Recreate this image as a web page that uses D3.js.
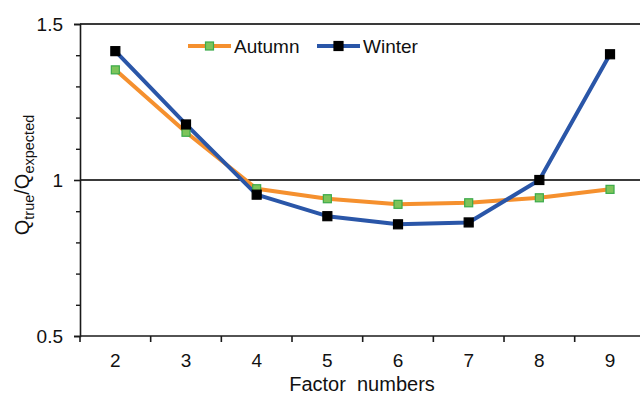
<!DOCTYPE html>
<html>
<head>
<meta charset="utf-8">
<script src="https://cdn.jsdelivr.net/npm/d3@7"></script>
<style>
  html, body { margin: 0; padding: 0; background: #fff; }
  svg { display: block; font-family: Arial, "Liberation Sans", sans-serif; }
</style>
</head>
<body>
<svg id="chart" width="640" height="401"></svg>
<script>
// Ratio of true to expected Q for each number of factors
const factors = ["2", "3", "4", "5", "6", "7", "8", "9"];
const autumn = [1.353, 1.153, 0.972, 0.940, 0.922, 0.927, 0.943, 0.970];
const winter = [1.413, 1.178, 0.953, 0.884, 0.858, 0.864, 1.000, 1.403];
const majorTicks = [0.5, 1, 1.5];
const minorTicks = [0.6, 0.7, 0.8, 0.9, 1.1, 1.2, 1.3, 1.4];

const FONT = "Arial, 'Liberation Sans', sans-serif";
const svg = d3.select("#chart");
const W = 640, plotLeft = 80, plotTop = 24, plotBottom = 336;
const step = 70.67;

const x = d3.scaleBand().domain(factors).range([plotLeft, plotLeft + step * factors.length]).padding(0);
const y = d3.scaleLinear().domain([0.5, 1.5]).range([plotBottom, plotTop]);

const axisColor = "#1a1a1a";

// horizontal reference lines at 1 and 1.5
svg.append("g").selectAll("line").data([1, 1.5]).join("line")
  .attr("x1", plotLeft).attr("x2", W)
  .attr("y1", d => y(d)).attr("y2", d => y(d))
  .attr("stroke", "#3a3a3a").attr("stroke-width", 1.8);

// y axis with major labels and minor ticks
const yAxis = svg.append("g").attr("transform", `translate(${plotLeft},0)`)
  .call(d3.axisLeft(y).tickValues(majorTicks).tickFormat(d3.format("")).tickSize(6).tickPadding(11));
yAxis.select(".domain").attr("stroke", axisColor).attr("stroke-width", 1.6);
yAxis.selectAll(".tick line").attr("stroke", axisColor).attr("stroke-width", 1.6);
yAxis.selectAll(".tick text").attr("font-size", 19).attr("fill", "#111").attr("font-family", FONT);

svg.append("g").attr("transform", `translate(${plotLeft},0)`)
  .call(d3.axisLeft(y).tickValues(minorTicks).tickFormat("").tickSize(4))
  .call(g => g.select(".domain").remove())
  .selectAll(".tick line").attr("stroke", axisColor).attr("stroke-width", 1.4);

// x axis: labels centred on each band, ticks on band boundaries
const xAxis = svg.append("g").attr("transform", `translate(0,${plotBottom})`);
xAxis.append("line").attr("x1", plotLeft).attr("x2", W).attr("y1", 0).attr("y2", 0)
  .attr("stroke", axisColor).attr("stroke-width", 1.6);
xAxis.selectAll("line.tk").data(factors).join("line").attr("class", "tk")
  .attr("x1", d => x(d)).attr("x2", d => x(d)).attr("y1", 0).attr("y2", 6)
  .attr("stroke", axisColor).attr("stroke-width", 1.6);
xAxis.selectAll("text").data(factors).join("text")
  .attr("x", d => x(d) + x.bandwidth() / 2).attr("y", 31)
  .attr("text-anchor", "middle").attr("font-size", 19).attr("fill", "#111")
  .text(d => d);

// axis titles
svg.append("text").attr("x", 362).attr("y", 391)
  .attr("text-anchor", "middle").attr("font-size", 20).attr("fill", "#111")
  .attr("xml:space", "preserve")
  .text("Factor  numbers");

const yTitle = svg.append("text")
  .attr("transform", "translate(29,175) rotate(-90)")
  .attr("text-anchor", "middle").attr("font-size", 20).attr("fill", "#111");
yTitle.append("tspan").text("Q");
yTitle.append("tspan").attr("font-size", 14.5).attr("dy", 5).text("true");
yTitle.append("tspan").attr("dy", -5).text("/Q");
yTitle.append("tspan").attr("font-size", 14.5).attr("dy", 5).text("expected");

// series
const series = [
  { name: "Autumn", values: autumn, line: "#F5902E", fill: "#7DC45A", stroke: "#3BAA4A", size: 8 },
  { name: "Winter", values: winter, line: "#2A56A8", fill: "#000", stroke: "#000", size: 9 }
];
const cx = d => x(d) + x.bandwidth() / 2;
const lineGen = d3.line().x((d, i) => cx(factors[i])).y(d => y(d));

series.forEach(s => {
  svg.append("path").datum(s.values)
    .attr("d", lineGen).attr("fill", "none")
    .attr("stroke", s.line).attr("stroke-width", 4).attr("stroke-linejoin", "round");
});
series.forEach(s => {
  svg.append("g").selectAll("rect").data(s.values).join("rect")
    .attr("x", (d, i) => cx(factors[i]) - s.size / 2)
    .attr("y", d => y(d) - s.size / 2)
    .attr("width", s.size).attr("height", s.size)
    .attr("fill", s.fill).attr("stroke", s.stroke).attr("stroke-width", 1.2);
});

// legend
const legendPos = [{ x0: 188, x1: 231, tx: 234 }, { x0: 317, x1: 360, tx: 363 }];
const ly = 46;
series.forEach((s, i) => {
  const p = legendPos[i];
  const g = svg.append("g");
  g.append("line").attr("x1", p.x0).attr("x2", p.x1).attr("y1", ly).attr("y2", ly)
    .attr("stroke", s.line).attr("stroke-width", 4);
  g.append("rect").attr("x", (p.x0 + p.x1) / 2 - s.size / 2).attr("y", ly - s.size / 2)
    .attr("width", s.size).attr("height", s.size)
    .attr("fill", s.fill).attr("stroke", s.stroke).attr("stroke-width", 1.2);
  g.append("text").attr("x", p.tx).attr("y", ly + 7)
    .attr("font-size", 19).attr("fill", "#111").text(s.name);
});
</script>
</body>
</html>
